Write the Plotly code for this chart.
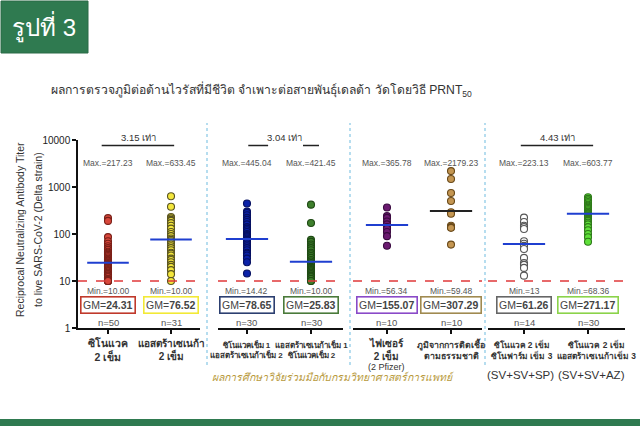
import math
import plotly.graph_objects as go

# ---------------- data ----------------
g1_sinovac = [217.23, 190, 86, 70, 62, 55, 50, 46, 42, 40, 38, 36, 34, 32, 30, 29, 28, 27, 26, 25,
              24, 23, 22, 21, 20, 20, 19, 18, 17, 16, 16, 15, 15, 14, 14, 13, 13, 12, 12, 12,
              11, 11, 11, 10.5, 10.5, 10, 10, 10, 10, 10]
g1_az = [633.45, 380, 230, 215, 200, 190, 170, 150, 130, 110, 100, 90, 80, 75, 70, 65, 60, 55, 50, 45,
         40, 38, 35, 30, 28, 25, 22, 20, 17, 14, 10]
g2_sv_az = [445.04, 300, 280, 250, 220, 200, 180, 160, 140, 130, 120, 110, 100, 95, 90, 85, 80, 75, 70, 65,
            60, 55, 50, 45, 40, 38, 35, 30, 25, 14.42]
g2_az_sv = [421.45, 171, 75, 68, 60, 55, 50, 45, 40, 37, 34, 31, 28, 26, 24, 22, 20, 19, 18, 17,
            16, 15, 14, 13, 12.5, 12, 11, 11, 10, 10]
g3_pfizer = [365.78, 240, 220, 185, 160, 140, 130, 110, 90, 56.34]
g3_natural = [2179.23, 1480, 745, 505, 290, 270, 150, 140, 135, 59.48]
g4_svsvsp = [223.13, 180, 150, 140, 128, 70, 62, 56, 48, 31, 24, 22, 19, 13]
g4_svsvaz = [603.77, 560, 520, 480, 450, 420, 400, 380, 360, 340, 320, 300, 290, 280, 270, 260, 250, 240,
             230, 220, 210, 200, 190, 175, 160, 140, 120, 100, 85, 68.36]

series_values = [g1_sinovac, g1_az, g2_sv_az, g2_az_sv, g3_pfizer, g3_natural, g4_svsvsp, g4_svsvaz]
gm_values = [24.31, 76.52, 78.65, 25.83, 155.07, 307.29, 61.26, 271.17]
max_labels = ["217.23", "633.45", "445.04", "421.45", "365.78", "2179.23", "223.13", "603.77"]
min_labels = ["10.00", "10.00", "14.42", "10.00", "56.34", "59.48", "13", "68.36"]
n_values = [50, 31, 30, 30, 10, 10, 14, 30]
category_labels = [
    "ซิโนแวค<br>2 เข็ม",
    "แอสตร้าเซเนก้า<br>2 เข็ม",
    "ซิโนแวคเข็ม 1<br>แอสตร้าเซเนก้าเข็ม 2",
    "แอสตร้าเซเนก้าเข็ม 1<br>ซิโนแวคเข็ม 2",
    "ไฟเซอร์<br>2 เข็ม",
    "ภูมิจากการติดเชื้อ<br>ตามธรรมชาติ",
    "ซิโนแวค 2 เข็ม<br>ซิโนฟาร์ม เข็ม 3",
    "ซิโนแวค 2 เข็ม<br>แอสตร้าเซเนก้าเข็ม 3",
]
extra_labels = ["", "", "", "", "(2 Pfizer)", "", "(SV+SV+SP)", "(SV+SV+AZ)"]
fold_labels = ["3.15 เท่า", "3.04 เท่า", None, "4.43 เท่า"]
y_tick_vals = [1, 10, 100, 1000, 10000]
y_tick_text = ["1", "10", "100", "1000", "10000"]

# ---------------- styles ----------------
fill_colors = ["#d8473b", "#f3e63c", "#0b22a8", "#3e7f2c", "#6b1a70", "#c49652", "#ffffff", "#5fe03a"]
edge_colors = ["#7a2018", "#5a5420", "#061060", "#1f4a14", "#3a0a40", "#6a4a1a", "#555555", "#2f7a1a"]
gm_line_colors = ["#1f3fd0"] * 5 + ["#222222"] + ["#1f3fd0"] * 2
box_colors = ["#c0392b", "#f2e936", "#2c3f70", "#4a7a3a", "#8a4ac8", "#a08a50", "#666666", "#8bd34a"]
label_sizes = [10.5, 10, 8, 8, 10, 8.8, 8.4, 8.4]
label_shift = [0, 0, 0, 0, 0, 0, -0.03, 0.13]
extra_shift = [0, 0, 0, 0, 0, 0, -0.06, 0.06]

W, H = 640, 426
def px(x):
    return x / W
def py(y):
    return 1 - y / H

Y_DOM = [py(328), py(140)]
def ypaper(v):
    return Y_DOM[0] + math.log10(v) / 4 * (Y_DOM[1] - Y_DOM[0])

x_domains = [(78, 200), (218, 343), (353, 482), (488, 625)]
x_ranges = [(-0.476, 1.46), (-0.453, 1.5), (-0.531, 1.484), (-0.5625, 1.578)]
axis_names = ["x", "x2", "x3", "x4"]

fig = go.Figure()

for i, vals in enumerate(series_values):
    g = i // 2
    c = i % 2
    xa = axis_names[g]
    fig.add_trace(go.Scatter(
        x=[c] * len(vals), y=vals, mode="markers", xaxis=xa, yaxis="y",
        marker=dict(size=7, color=fill_colors[i], line=dict(color=edge_colors[i], width=1.1)),
        showlegend=False, hoverinfo="y"))
    fig.add_trace(go.Scatter(
        x=[c - 0.33, c + 0.33], y=[gm_values[i], gm_values[i]], mode="lines", xaxis=xa, yaxis="y",
        line=dict(color=gm_line_colors[i], width=2), showlegend=False, hoverinfo="skip"))

layout = dict(
    width=W, height=H, margin=dict(l=0, r=0, t=0, b=0),
    paper_bgcolor="white", plot_bgcolor="white",
    font=dict(family="Liberation Sans, Arial, sans-serif", color="#333333"),
    showlegend=False,
)
for g in range(4):
    key = "xaxis" if g == 0 else f"xaxis{g+1}"
    layout[key] = dict(
        domain=[px(x_domains[g][0]), px(x_domains[g][1])], range=list(x_ranges[g]),
        anchor="y", showline=True, linecolor="#111111", linewidth=1.5,
        tickvals=[0, 1], showticklabels=False, ticks="outside", ticklen=4, tickwidth=1.5,
        tickcolor="#111111", showgrid=False, zeroline=False, fixedrange=True, automargin=False)
layout["yaxis"] = dict(
    domain=Y_DOM, type="log", range=[0, 4], anchor="x", showline=True, linecolor="#111111",
    linewidth=1.5, tickvals=y_tick_vals, ticktext=y_tick_text, ticks="outside", ticklen=4,
    tickwidth=1.5, tickcolor="#111111", showgrid=False, zeroline=False, automargin=False,
    tickfont=dict(size=10, color="#222222"), fixedrange=True)
fig.update_layout(**layout)

shapes = []
annotations = []

# header box
shapes.append(dict(type="rect", xref="paper", yref="paper", x0=px(1), x1=px(88), y0=py(53), y1=py(1),
                   fillcolor="#2f7a50", line=dict(color="#2a6a46", width=1), layer="below"))
annotations.append(dict(xref="paper", yref="paper", x=px(44), y=py(27), text="รูปที่ 3", showarrow=False,
                        font=dict(size=24, color="white"), xanchor="center", yanchor="middle"))
# bottom bar
shapes.append(dict(type="rect", xref="paper", yref="paper", x0=0, x1=1, y0=0, y1=py(419),
                   fillcolor="#2f7a50", line=dict(width=0)))
# title
annotations.append(dict(xref="paper", yref="paper", x=px(261), y=py(90),
                        text="ผลการตรวจภูมิต่อต้านไวรัสที่มีชีวิต จำเพาะต่อสายพันธุ์เดลต้า วัดโดยวิธี PRNT<sub>50</sub>",
                        showarrow=False, font=dict(size=12.2, color="#333333"), xanchor="center", yanchor="middle"))
# y axis title
annotations.append(dict(xref="paper", yref="paper", x=px(20), y=py(230), textangle=-90,
                        text="Reciprocal Neutralizing Antibody Titer", showarrow=False,
                        font=dict(size=10.5, color="#333333"), xanchor="center", yanchor="middle"))
annotations.append(dict(xref="paper", yref="paper", x=px(38), y=py(230), textangle=-90,
                        text="to live SARS-CoV-2 (Delta strain)", showarrow=False,
                        font=dict(size=10.5, color="#333333"), xanchor="center", yanchor="middle"))

# dividers
for xd in [207, 350, 485]:
    shapes.append(dict(type="line", xref="paper", yref="paper", x0=px(xd), x1=px(xd), y0=py(365), y1=py(123),
                       line=dict(color="#9ed2ea", width=1.5, dash="dot")))

for g in range(4):
    xa = axis_names[g]
    # red dashed line at the detection limit (10)
    shapes.append(dict(type="line", xref=f"{xa} domain", yref="paper", x0=0, x1=1,
                       y0=ypaper(y_tick_vals[1]), y1=ypaper(y_tick_vals[1]),
                       line=dict(color="#e0383a", width=1.6, dash="dash")))

# fold-change brackets
fold_segments = [[(-0.1, 1.05)], [(0.02, 0.33), (0.875, 1.125)], [], [(-0.05, 1.08)]]
fold_text_x = [0.48, 0.59, None, 0.52]
for g in range(4):
    xa = axis_names[g]
    for (a, b) in fold_segments[g]:
        shapes.append(dict(type="line", xref=xa, yref="paper", x0=a, x1=b, y0=py(145.5), y1=py(145.5),
                           line=dict(color="#222222", width=1.5)))
    if fold_labels[g]:
        annotations.append(dict(xref=xa, yref="paper", x=fold_text_x[g], y=py(137), text=fold_labels[g],
                                showarrow=False, font=dict(size=9.5, color="#333333"),
                                xanchor="center", yanchor="middle"))

for i in range(8):
    g = i // 2
    c = i % 2
    xa = axis_names[g]
    annotations.append(dict(xref=xa, yref="paper", x=c, y=py(163), text="Max.=" + max_labels[i],
                            showarrow=False, font=dict(size=8.5, color="#555555"),
                            xanchor="center", yanchor="middle"))
    annotations.append(dict(xref=xa, yref="paper", x=c, y=py(291), text="Min.=" + min_labels[i],
                            showarrow=False, font=dict(size=8.5, color="#555555"),
                            xanchor="center", yanchor="middle"))
    annotations.append(dict(xref=xa, yref="paper", x=c, y=py(304.5), text="GM=<b>%.2f</b>" % gm_values[i],
                            showarrow=False, font=dict(size=10.5, color="#444444"),
                            bordercolor=box_colors[i], borderwidth=1.6, borderpad=1.5, bgcolor="white",
                            xanchor="center", yanchor="middle"))
    annotations.append(dict(xref=xa, yref="paper", x=c, y=py(322), text="n=%d" % n_values[i],
                            showarrow=False, font=dict(size=9.5, color="#555555"),
                            xanchor="center", yanchor="middle"))
    annotations.append(dict(xref=xa, yref="paper", x=c + label_shift[i], y=py(349.5),
                            text="<b>" + category_labels[i] + "</b>",
                            showarrow=False, font=dict(size=label_sizes[i], color="#333333"),
                            xanchor="center", yanchor="middle"))
    if extra_labels[i]:
        if g == 2:
            annotations.append(dict(xref=xa, yref="paper", x=c, y=py(367), text=extra_labels[i],
                                    showarrow=False, font=dict(size=9, color="#333333"),
                                    xanchor="center", yanchor="middle"))
        else:
            annotations.append(dict(xref=xa, yref="paper", x=c + extra_shift[i], y=py(375), text=extra_labels[i],
                                    showarrow=False, font=dict(size=11.5, color="#333333"),
                                    xanchor="center", yanchor="middle"))

# caption
annotations.append(dict(xref="paper", yref="paper", x=px(333), y=py(377),
                        text="<i>ผลการศึกษาวิจัยร่วมมือกับกรมวิทยาศาสตร์การแพทย์</i>",
                        showarrow=False, font=dict(size=10.5, color="#b89a3c"),
                        xanchor="center", yanchor="middle"))

fig.update_layout(shapes=shapes, annotations=annotations)
fig.write_html("out.html", config={"displayModeBar": False},
               post_script="document.body.style.margin='0px';document.body.style.overflow='hidden';")
